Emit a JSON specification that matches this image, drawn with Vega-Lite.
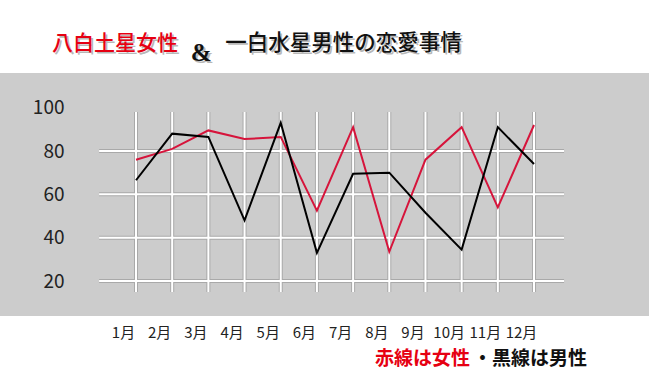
{
  "$schema": "https://vega.github.io/schema/vega-lite/v6.json",
  "width": 649,
  "height": 243,
  "autosize": "none",
  "padding": {"left": 0, "right": 0, "top": 73, "bottom": 72},
  "background": "#ffffff",
  "config": {
    "view": {"stroke": null, "fill": "#cccccc"},
    "axis": {"grid": false, "domain": false, "ticks": false}
  },
  "datasets": {
    "scores": [
      {"m": 1, "sex": "女性", "v": 76},
      {"m": 2, "sex": "女性", "v": 81},
      {"m": 3, "sex": "女性", "v": 89.5},
      {"m": 4, "sex": "女性", "v": 85.5},
      {"m": 5, "sex": "女性", "v": 86.5},
      {"m": 6, "sex": "女性", "v": 52.5},
      {"m": 7, "sex": "女性", "v": 91},
      {"m": 8, "sex": "女性", "v": 33.5},
      {"m": 9, "sex": "女性", "v": 76},
      {"m": 10, "sex": "女性", "v": 91},
      {"m": 11, "sex": "女性", "v": 54},
      {"m": 12, "sex": "女性", "v": 92},
      {"m": 1, "sex": "男性", "v": 66.5},
      {"m": 2, "sex": "男性", "v": 88},
      {"m": 3, "sex": "男性", "v": 86.5},
      {"m": 4, "sex": "男性", "v": 48},
      {"m": 5, "sex": "男性", "v": 93},
      {"m": 6, "sex": "男性", "v": 33},
      {"m": 7, "sex": "男性", "v": 69.5},
      {"m": 8, "sex": "男性", "v": 70},
      {"m": 9, "sex": "男性", "v": 51.5},
      {"m": 10, "sex": "男性", "v": 34.5},
      {"m": 11, "sex": "男性", "v": 91},
      {"m": 12, "sex": "男性", "v": 74}
    ],
    "months": [
      {"m": 1}, {"m": 2}, {"m": 3}, {"m": 4}, {"m": 5}, {"m": 6},
      {"m": 7}, {"m": 8}, {"m": 9}, {"m": 10}, {"m": 11}, {"m": 12}
    ],
    "hgrid": [{"g": 20}, {"g": 40}, {"g": 60}, {"g": 80}]
  },
  "layer": [
    {
      "data": {"name": "hgrid"},
      "mark": {"type": "rule", "stroke": "#a9a9a9", "strokeWidth": 4},
      "encoding": {
        "y": {"field": "g", "type": "quantitative", "title": null, "scale": {"domain": [3.85, 116], "nice": false, "zero": false},
          "axis": {"orient": "left", "offset": -68, "values": [20, 40, 60, 80, 100], "labelPadding": 4, "labelFontSize": 19, "labelFont": "Noto Sans CJK JP", "labelColor": "#222222", "title": null}},
        "x": {"datum": -0.02, "type": "quantitative", "title": null, "scale": {"domain": [-2.7588, 15.178], "nice": false, "zero": false},
          "axis": {"orient": "bottom", "values": [1, 2, 3, 4, 5, 6, 7, 8, 9, 10, 11, 12], "labelExpr": "datum.value + '月'", "labelPadding": 9, "labelOffset": -13, "labelFontSize": 15, "labelFont": "Noto Sans CJK JP", "labelColor": "#222222", "labelFlush": false, "labelOverlap": false, "title": null}},
        "x2": {"datum": 12.83}
      }
    },
    {
      "data": {"name": "months"},
      "mark": {"type": "rule", "stroke": "#a9a9a9", "strokeWidth": 4},
      "encoding": {
        "x": {"field": "m", "type": "quantitative", "title": null},
        "y": {"datum": 14.92, "type": "quantitative", "title": null},
        "y2": {"datum": 98.0}
      }
    },
    {
      "data": {"name": "hgrid"},
      "mark": {"type": "rule", "stroke": "#ffffff", "strokeWidth": 2},
      "encoding": {
        "y": {"field": "g", "type": "quantitative", "title": null},
        "x": {"datum": -0.02, "type": "quantitative", "title": null},
        "x2": {"datum": 12.83}
      }
    },
    {
      "data": {"name": "months"},
      "mark": {"type": "rule", "stroke": "#ffffff", "strokeWidth": 2},
      "encoding": {
        "x": {"field": "m", "type": "quantitative", "title": null},
        "y": {"datum": 14.92, "type": "quantitative", "title": null},
        "y2": {"datum": 98.0}
      }
    },
    {
      "data": {"name": "scores"},
      "transform": [{"filter": "datum.sex === '女性'"}],
      "mark": {"type": "line", "stroke": "#d6143b", "strokeWidth": 2},
      "encoding": {
        "x": {"field": "m", "type": "quantitative", "title": null},
        "y": {"field": "v", "type": "quantitative", "title": null}
      }
    },
    {
      "data": {"name": "scores"},
      "transform": [{"filter": "datum.sex === '男性'"}],
      "mark": {"type": "line", "stroke": "#000000", "strokeWidth": 2},
      "encoding": {
        "x": {"field": "m", "type": "quantitative", "title": null},
        "y": {"field": "v", "type": "quantitative", "title": null}
      }
    },
    {
      "data": {"values": [{}]},
      "mark": {"type": "text", "font": "Noto Sans CJK JP", "fontSize": 21, "align": "center", "baseline": "middle", "fill": "#8a8a8a", "opacity": 0.6, "dx": 2, "dy": 2},
      "encoding": {
        "x": {"datum": 0.42, "type": "quantitative", "title": null},
        "y": {"datum": 129.4, "type": "quantitative", "title": null},
        "text": {"value": "八白土星女性"}
      }
    },
    {
      "data": {"values": [{}]},
      "mark": {"type": "text", "font": "Noto Sans CJK JP", "fontSize": 21, "fontWeight": 500, "align": "center", "baseline": "middle", "fill": "#e60012"},
      "encoding": {
        "x": {"datum": 0.42, "type": "quantitative", "title": null},
        "y": {"datum": 129.4, "type": "quantitative", "title": null},
        "text": {"value": "八白土星女性"}
      }
    },
    {
      "data": {"values": [{}]},
      "mark": {"type": "text", "font": "Liberation Serif", "fontSize": 25, "fontWeight": "bold", "align": "center", "baseline": "middle", "fill": "#8a8a8a", "opacity": 0.6, "dx": 2, "dy": 2},
      "encoding": {
        "x": {"datum": 2.8, "type": "quantitative", "title": null},
        "y": {"datum": 125.2, "type": "quantitative", "title": null},
        "text": {"value": "&"}
      }
    },
    {
      "data": {"values": [{}]},
      "mark": {"type": "text", "font": "Liberation Serif", "fontSize": 25, "fontWeight": "bold", "align": "center", "baseline": "middle", "fill": "#111111"},
      "encoding": {
        "x": {"datum": 2.8, "type": "quantitative", "title": null},
        "y": {"datum": 125.2, "type": "quantitative", "title": null},
        "text": {"value": "&"}
      }
    },
    {
      "data": {"values": [{}]},
      "mark": {"type": "text", "font": "Noto Sans CJK JP", "fontSize": 21.5, "align": "center", "baseline": "middle", "fill": "#8a8a8a", "opacity": 0.6, "dx": 2, "dy": 2},
      "encoding": {
        "x": {"datum": 6.735, "type": "quantitative", "title": null},
        "y": {"datum": 129.4, "type": "quantitative", "title": null},
        "text": {"value": "一白水星男性の恋愛事情"}
      }
    },
    {
      "data": {"values": [{}]},
      "mark": {"type": "text", "font": "Noto Sans CJK JP", "fontSize": 21.5, "fontWeight": 500, "align": "center", "baseline": "middle", "fill": "#111111"},
      "encoding": {
        "x": {"datum": 6.735, "type": "quantitative", "title": null},
        "y": {"datum": 129.4, "type": "quantitative", "title": null},
        "text": {"value": "一白水星男性の恋愛事情"}
      }
    },
    {
      "data": {"values": [{}]},
      "mark": {"type": "text", "font": "Noto Sans CJK JP", "fontSize": 19, "fontWeight": "bold", "align": "left", "baseline": "middle", "fill": "#e60012"},
      "encoding": {
        "x": {"datum": 7.606, "type": "quantitative", "title": null},
        "y": {"datum": -16.0, "type": "quantitative", "title": null},
        "text": {"value": "赤線は女性"}
      }
    },
    {
      "data": {"values": [{}]},
      "mark": {"type": "text", "font": "Noto Sans CJK JP", "fontSize": 19, "fontWeight": "bold", "align": "left", "baseline": "middle", "fill": "#111111"},
      "encoding": {
        "x": {"datum": 10.314, "type": "quantitative", "title": null},
        "y": {"datum": -16.0, "type": "quantitative", "title": null},
        "text": {"value": "・黒線は男性"}
      }
    }
  ]
}
